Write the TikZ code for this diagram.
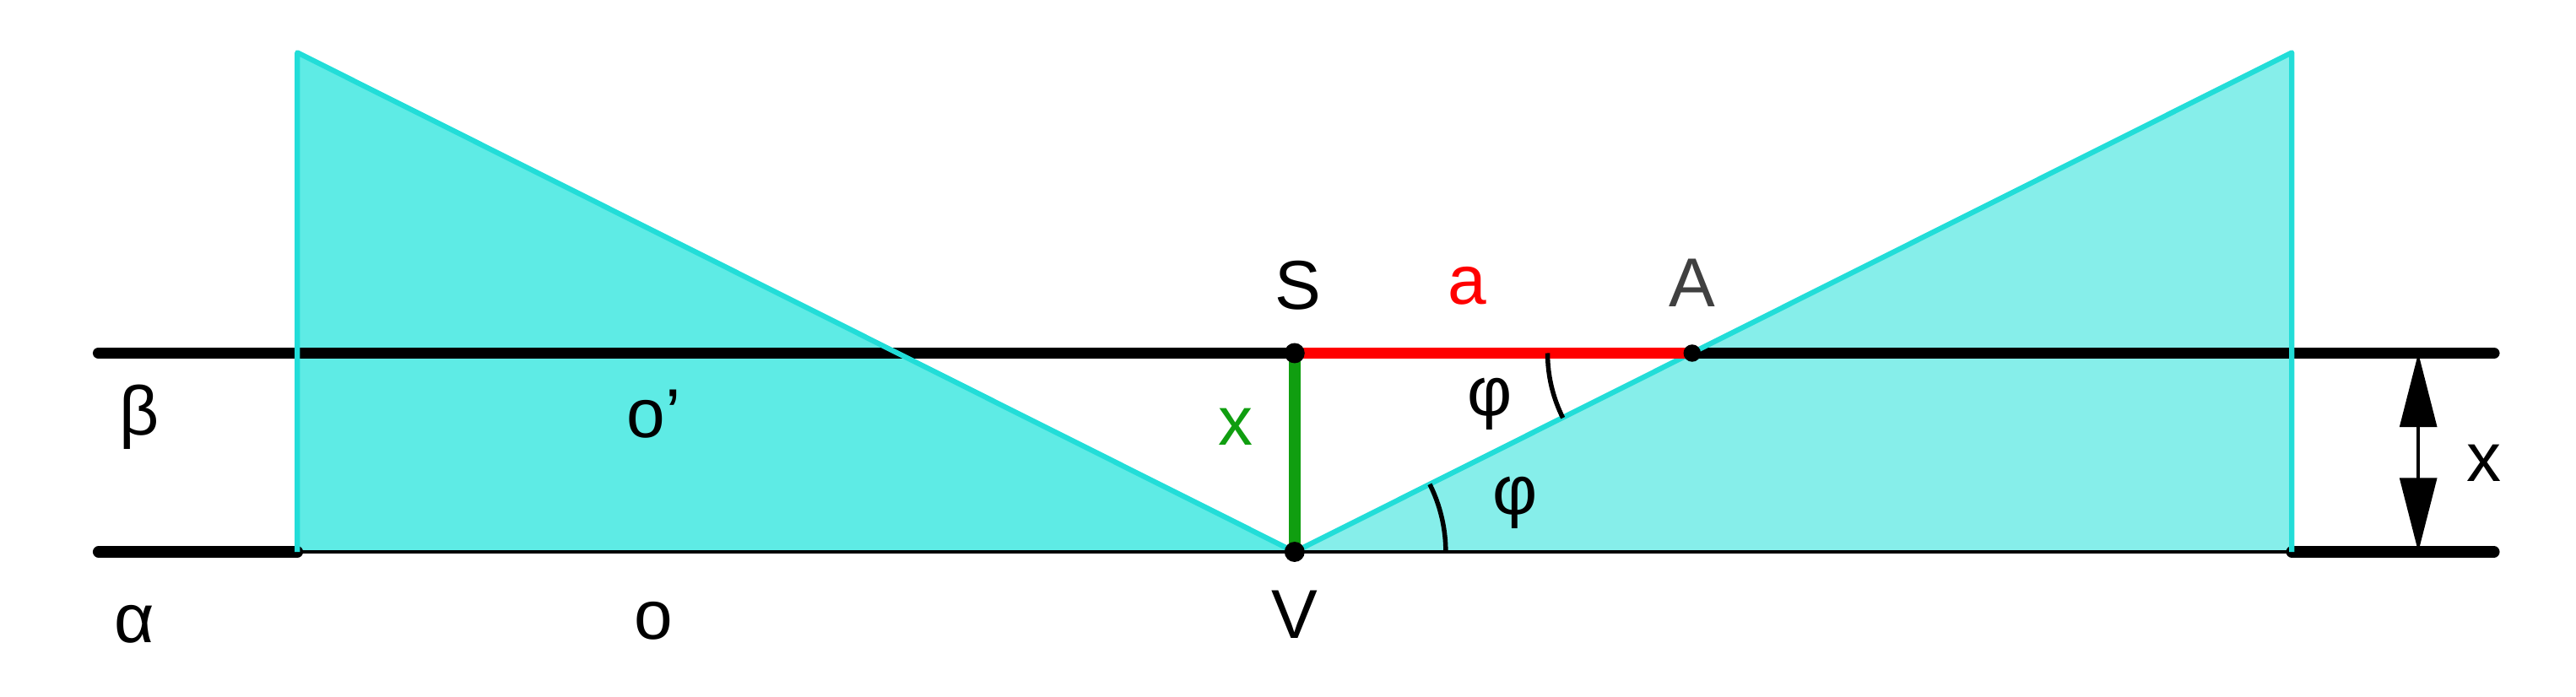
\documentclass[tikz,border=0pt]{standalone}
\usepackage{fontspec}
\setmainfont{Liberation Sans}
\usetikzlibrary{arrows.meta}
\definecolor{tealfill}{HTML}{5EEBE5}
\definecolor{tealfilltwo}{HTML}{86EEEA}
\definecolor{tealedge}{HTML}{22DDD8}
\definecolor{greenx}{HTML}{109E10}
\tikzset{
    plane/.style={line width=4pt,line cap=round},
    wedge/.style={draw=tealedge,line width=1.8pt,line join=round},
    lbl/.style={font=\fontsize{24}{28}\selectfont},
    dot/.style={circle,fill=black,inner sep=0pt,minimum size=7pt},
}
\begin{document}
\begin{tikzpicture}[x=0.02cm,y=0.02cm]
    \useasboundingbox (0,0) rectangle (1568,424);
    % points
    \coordinate (TL) at (181,392);
    \coordinate (BL) at (181,88);
    \coordinate (TR) at (1395,392);
    \coordinate (BR) at (1395,88);
    \coordinate (bL) at (60,209);
    \coordinate (bR) at (1518,209);
    \coordinate (aL) at (60,88);
    \coordinate (aR) at (1518,88);
    % wedges
    \fill[tealfill] (TL) -- (BL) -- (788,88) -- cycle;
    \fill[tealfilltwo] (TR) -- (BR) -- (788,88) -- cycle;
    \draw[plane] (bL) -- (bR);
    \draw[plane] (aL) -- (BL);
    \draw[plane] (BR) -- (aR);
    \draw[line width=1.2pt] (BL) -- (BR);
    \draw[wedge] (BL) -- (TL) -- (788,88);
    \draw[wedge] (BR) -- (TR) -- (788,88);
    % segments
    \coordinate (S) at (788,209);
    \coordinate (V) at (788,88);
    \coordinate (A) at (1030,209);
    \draw[red,line width=4pt] (S) -- (A);
    \draw[greenx,line width=4pt] (S) -- (V);
    \node[dot] at (S) {};
    \node[dot] at (V) {};
    \node[dot,minimum size=6pt] at (A) {};
    % angles
    \draw[line width=1.6pt] (942,209) arc[start angle=180,end angle=206.6,radius=88];
    \draw[line width=1.6pt] (880,88) arc[start angle=0,end angle=26.6,radius=92];
    % distance
    \coordinate (dT) at (1472,209);
    \coordinate (dB) at (1472,88);
    \draw[line width=1pt,{Triangle[length=0.9cm,width=0.45cm]}-{Triangle[length=0.9cm,width=0.45cm]}] (dT) -- (dB);
    % labels
    \node[lbl] (lx) at (1512,142) {x};
    \node[lbl] (lb) at (85,170) {β};
    \node[lbl] (la) at (82,44) {α};
    \node[lbl] (lo1) at (398,172) {o'};
    \node[lbl] (lo) at (398,46) {o};
    \node[lbl] (lS) at (790,250) {S};
    \node[lbl,red] (lA2) at (893,250) {a};
    \node[lbl,black!75] (lA) at (1030,252) {A};
    \node[lbl,greenx] (lgx) at (752,164) {x};
    \node[lbl] (lV) at (788,50) {V};
    \node[lbl] (lp1) at (907,178) {φ};
    \node[lbl] (lp2) at (922,118) {φ};
\end{tikzpicture}
\end{document}
